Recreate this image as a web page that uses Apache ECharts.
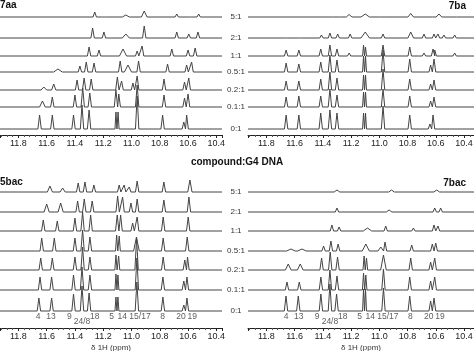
<!DOCTYPE html>
<html>
<head>
<meta charset="utf-8">
<script src="https://cdn.jsdelivr.net/npm/echarts@6/dist/echarts.min.js"></script>
<style>
  html, body { margin: 0; padding: 0; background: #fff; }
  #chart { width: 474px; height: 351px; }
</style>
</head>
<body>
<div id="chart"></div>
<script>
// ligand : DNA ratios, top trace first
const ratios = ['5:1', '2:1', '1:1', '0.5:1', '0.2:1', '0.1:1', '0:1'];

// imino proton assignments under the bottom panels
const peakNames = ['4', '13', '9', '24/8', '18', '5', '14', '15/17', '8', '20', '19'];
const peakNamePpm = [11.66, 11.57, 11.44, 11.35, 11.26, 11.14, 11.065, 10.94, 10.78, 10.65, 10.57];

// each trace: [ppm, intensity, (half width)]
const spec7aa = [
  [[11.26, 5], [11.195, 2], [11.04, 2, 0.025], [10.91, 6, 0.02], [10.68, 3], [10.595, 2], [10.525, 3]],
  [[11.275, 10], [11.195, 6], [11.04, 4, 0.025], [10.91, 12], [10.68, 6], [10.595, 4], [10.53, 6]],
  [[11.30, 9], [11.23, 6], [11.06, 7, 0.025], [10.96, 5], [10.925, 10], [10.715, 7], [10.60, 6], [10.55, 8]],
  [[11.52, 3, 0.03], [11.365, 6], [11.32, 10], [11.265, 9], [11.08, 11], [11.025, 7, 0.025], [10.95, 11], [10.745, 8], [10.61, 7], [10.575, 10]],
  [[11.62, 3, 0.02], [11.55, 6, 0.015], [11.385, 10], [11.335, 12], [11.285, 11], [11.10, 13], [11.07, 9], [10.99, 7], [10.96, 14], [10.77, 11], [10.625, 8], [10.595, 12]],
  [[11.63, 6, 0.02], [11.56, 10], [11.40, 12], [11.345, 19], [11.295, 14], [11.11, 17], [11.09, 13], [10.96, 22], [10.77, 12], [10.625, 9], [10.60, 13]],
  [[11.65, 14], [11.56, 14], [11.41, 14], [11.35, 24], [11.30, 19], [11.11, 17, 0.007], [11.095, 17, 0.007], [10.96, 33], [10.78, 14], [10.63, 7], [10.61, 14]]
];

const spec7ba = [
  [[11.345, 2], [11.295, 1.5], [11.214, 2.5, 0.02], [11.10, 3, 0.03], [10.978, 1.5], [10.778, 3.5, 0.02], [10.637, 2], [10.578, 3, 0.02], [10.467, 2]],
  [[11.66, 2], [11.57, 2], [11.41, 3], [11.35, 5], [11.295, 4], [11.207, 4], [11.10, 6, 0.03], [10.974, 4], [10.778, 6, 0.02], [10.684, 4], [10.613, 4], [10.585, 4], [10.543, 3], [10.467, 3]],
  [[11.66, 6], [11.57, 6], [11.415, 7], [11.35, 11], [11.30, 7], [11.214, 3], [11.112, 11, 0.007], [11.098, 9, 0.007], [10.974, 11], [10.785, 9], [10.684, 3], [10.62, 7], [10.608, 6], [10.467, 3]],
  [[11.66, 9], [11.57, 8], [11.415, 10], [11.35, 17], [11.30, 12], [11.112, 16, 0.007], [11.098, 16, 0.007], [10.974, 22], [10.785, 13], [10.637, 7], [10.613, 13], [10.467, 2]],
  [[11.66, 9], [11.57, 9], [11.415, 11], [11.35, 18], [11.30, 12], [11.112, 15, 0.007], [11.098, 15, 0.007], [10.974, 21], [10.785, 11], [10.637, 6], [10.613, 10]],
  [[11.66, 10], [11.57, 11], [11.415, 11], [11.35, 18], [11.30, 12], [11.112, 15, 0.007], [11.098, 15, 0.007], [10.974, 18], [10.785, 11], [10.637, 6], [10.613, 10]],
  [[11.66, 14], [11.57, 14], [11.415, 16], [11.35, 19], [11.30, 16], [11.112, 16, 0.007], [11.098, 16, 0.007], [10.974, 23], [10.785, 14], [10.642, 5], [10.62, 14]]
];

const spec5bac = [
  [[11.577, 6, 0.018], [11.487, 4, 0.018], [11.377, 9], [11.329, 10], [11.266, 7], [11.087, 7], [11.052, 7], [11.016, 5], [10.96, 11], [10.771, 10], [10.587, 12, 0.015]],
  [[11.60, 8, 0.018], [11.501, 9, 0.018], [11.381, 11], [11.334, 13], [11.278, 11], [11.098, 16], [11.063, 15], [11.004, 9], [10.96, 13], [10.771, 12], [10.594, 15]],
  [[11.624, 11], [11.525, 10], [11.40, 13], [11.346, 19], [11.289, 16], [11.101, 16], [11.077, 16], [10.992, 8], [10.96, 14], [10.776, 14], [10.599, 14]],
  [[11.635, 13], [11.546, 13], [11.40, 13], [11.346, 21], [11.294, 14], [11.105, 16, 0.008], [11.087, 15, 0.008], [10.965, 14, 0.02], [10.776, 13], [10.606, 14]],
  [[11.642, 12], [11.56, 12], [11.40, 13], [11.346, 23], [11.294, 13], [11.11, 15, 0.008], [11.091, 14, 0.008], [10.964, 32], [10.776, 13], [10.623, 10], [10.604, 13]],
  [[11.647, 13], [11.565, 13], [11.41, 15], [11.35, 23], [11.294, 15], [11.11, 16, 0.007], [11.096, 15, 0.007], [10.962, 32], [10.778, 13], [10.63, 9], [10.608, 13]],
  [[11.655, 13], [11.565, 13], [11.41, 17], [11.35, 25], [11.30, 18], [11.11, 14, 0.007], [11.096, 14, 0.007], [10.962, 29], [10.778, 14], [10.63, 6], [10.608, 13]]
];

const spec7bac = [
  [[11.30, 2, 0.02], [10.914, 2, 0.02], [10.594, 2, 0.02], [10.566, 2, 0.02]],
  [[11.30, 4], [10.931, 2, 0.02], [10.608, 4], [10.566, 4]],
  [[11.336, 6], [11.285, 4], [11.084, 3, 0.03], [10.955, 5], [10.759, 3], [10.613, 6], [10.585, 5]],
  [[11.626, 2, 0.03], [11.548, 2, 0.03], [11.395, 5], [11.343, 10], [11.292, 7], [11.096, 7, 0.025], [10.99, 4, 0.02], [10.96, 9], [10.771, 6], [10.625, 7], [10.601, 8]],
  [[11.645, 6, 0.02], [11.56, 6, 0.02], [11.409, 12], [11.348, 18], [11.296, 13], [11.108, 14, 0.008], [11.091, 12, 0.008], [10.971, 15, 0.02], [10.778, 12], [10.637, 8], [10.608, 12]],
  [[11.654, 8], [11.567, 8], [11.414, 13], [11.35, 20], [11.30, 14], [11.112, 17, 0.008], [11.096, 15, 0.008], [10.971, 21], [10.785, 13], [10.637, 9], [10.608, 13]],
  [[11.661, 15], [11.574, 15], [11.414, 17], [11.35, 27], [11.303, 17], [11.112, 22, 0.007], [11.098, 22, 0.007], [10.971, 23], [10.785, 15], [10.637, 10], [10.613, 13]]
];

// layout
const PPM_MAX = 11.93;
const PPM_MIN_L = 10.36, PPM_MIN_R = 10.33;
const TOP_H = 135, BOT_H = 153;
const topBase = [118, 97, 79, 63, 45, 28, 6];
const botBase = [136, 116, 97, 77, 58, 38, 17];
const labelY = [11, 11, 11, 6, 11, 11, 11, 11, 11, 11, 11];
const FONT = 'Liberation Sans, Arial, sans-serif';
const LINE = '#444';

const chart = echarts.init(document.getElementById('chart'));

const traceData = (peaks, base, lo) => {
  const pts = [[PPM_MAX, base]];
  peaks.slice().sort((a, b) => b[0] - a[0]).forEach(p => {
    const w = p[2] || 0.012;
    pts.push([p[0] + w, base], [p[0], base + p[1]], [p[0] - w, base]);
  });
  pts.push([lo, base]);
  return pts;
};

const xAxisFor = (gridIndex, lo, named) => ({
  type: 'value', gridIndex, inverse: true, min: lo, max: PPM_MAX, splitNumber: 8,
  axisLine: {show: true, lineStyle: {color: '#222', width: 1}},
  axisTick: {show: true, length: 3, lineStyle: {color: '#222'}},
  minorTick: {show: true, splitNumber: 5, length: 2, lineStyle: {color: '#555'}},
  splitLine: {show: false},
  axisLabel: {
    showMinLabel: false, showMaxLabel: false, fontSize: 9, color: '#222', margin: 4, fontFamily: FONT,
    formatter: v => v.toFixed(1)
  },
  name: named ? 'δ 1H (ppm)' : '', nameLocation: 'middle', nameGap: 16,
  nameTextStyle: {fontSize: 8, color: '#333', fontFamily: FONT}
});

const yAxisFor = (gridIndex, h) => ({type: 'value', gridIndex, min: 0, max: h, show: false});

const panels = [
  {spec: spec7aa, base: topBase, grid: 0, lo: PPM_MIN_L},
  {spec: spec7ba, base: topBase, grid: 1, lo: PPM_MIN_R},
  {spec: spec5bac, base: botBase, grid: 2, lo: PPM_MIN_L},
  {spec: spec7bac, base: botBase, grid: 3, lo: PPM_MIN_R}
];

const series = [];
panels.forEach(pn => {
  pn.spec.forEach((peaks, i) => {
    series.push({
      type: 'line', xAxisIndex: pn.grid, yAxisIndex: pn.grid,
      data: traceData(peaks, pn.base[i], pn.lo),
      symbol: 'none', lineStyle: {color: LINE, width: 1}, silent: true
    });
  });
});

[2, 3].forEach(g => {
  series.push({
    type: 'scatter', xAxisIndex: g, yAxisIndex: g, symbolSize: 1,
    itemStyle: {color: 'transparent'},
    data: peakNames.map((n, i) => ({name: n, value: [peakNamePpm[i], labelY[i]]})),
    label: {show: true, position: 'inside', formatter: p => p.name, fontSize: 8.5, color: '#333', fontFamily: FONT}
  });
});

const titleStyle = {fontSize: 10, fontWeight: 'bold', color: '#111', fontFamily: FONT};
const gridBase = {outerBoundsMode: 'none', containLabel: false};

chart.setOption({
  animation: false,
  backgroundColor: '#fff',
  title: [
    {text: '7aa', left: 0, top: 0, padding: 0, textStyle: titleStyle},
    {text: '7ba', right: 8, top: 1, padding: 0, textStyle: titleStyle},
    {text: 'compound:G4 DNA', left: 'center', top: 157, padding: 0, textStyle: titleStyle},
    {text: '5bac', left: 0, top: 177, padding: 0, textStyle: titleStyle},
    {text: '7bac', right: 8, top: 178, padding: 0, textStyle: titleStyle}
  ],
  grid: [
    Object.assign({left: 0, top: 0, width: 222, height: TOP_H}, gridBase),
    Object.assign({left: 248, top: 0, width: 226, height: TOP_H}, gridBase),
    Object.assign({left: 0, top: 175, width: 222, height: BOT_H}, gridBase),
    Object.assign({left: 248, top: 175, width: 226, height: BOT_H}, gridBase)
  ],
  xAxis: [
    xAxisFor(0, PPM_MIN_L, false), xAxisFor(1, PPM_MIN_R, false),
    xAxisFor(2, PPM_MIN_L, true), xAxisFor(3, PPM_MIN_R, true)
  ],
  yAxis: [yAxisFor(0, TOP_H), yAxisFor(1, TOP_H), yAxisFor(2, BOT_H), yAxisFor(3, BOT_H)],
  series
});

// ratio labels in the gap between the panels, at each trace's baseline
const graphic = [];
[[0, topBase], [2, botBase]].forEach(([g, bases]) => {
  bases.forEach((b, i) => {
    const y = chart.convertToPixel({xAxisIndex: g, yAxisIndex: g}, [PPM_MAX, b])[1];
    graphic.push({
      type: 'text', x: 236, y,
      style: {text: ratios[i], fontSize: 8, fill: '#333', font: '8px ' + FONT, textAlign: 'center', textVerticalAlign: 'middle'}
    });
  });
});
chart.setOption({graphic});
</script>
</body>
</html>
